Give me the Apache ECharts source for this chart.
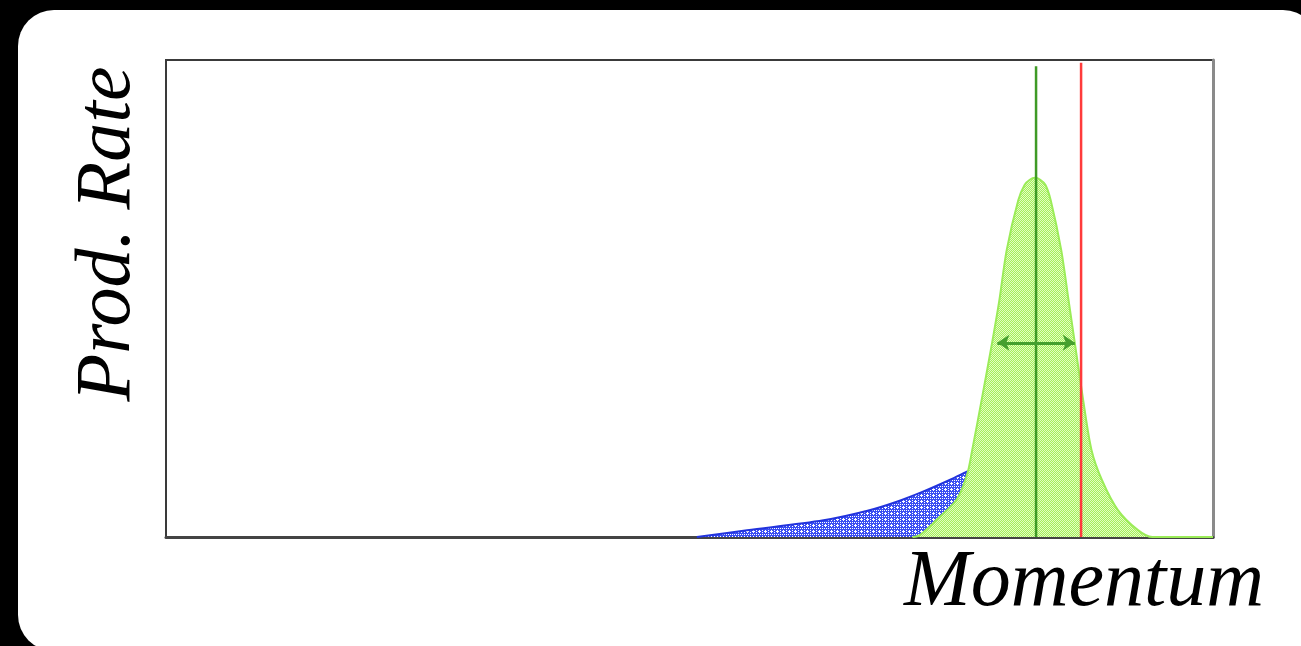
<!DOCTYPE html>
<html>
<head>
<meta charset="utf-8">
<script src="https://cdn.jsdelivr.net/npm/echarts@6/dist/echarts.min.js"></script>
<style>
  html, body { margin:0; padding:0; background:#000; width:1301px; height:646px; overflow:hidden; }
  #bg { position:absolute; left:18px; top:10px; width:1301px; height:641px; background:#fff; border-radius:36px; }
  #chart { position:absolute; left:0; top:0; width:1301px; height:646px; }
</style>
</head>
<body>
<div id="bg"></div>
<div id="chart"></div>
<script>
// Momentum axis (0..100, arbitrary units) and production rate (0..100)
const greenX = [71.3, 72.0, 73.6, 75.5, 76.5, 77.0, 77.9, 78.9, 79.6, 80.3, 81.4, 82.0, 82.5, 83.0, 83.5, 84.0, 84.5, 85.5, 86.2, 86.8, 87.6, 88.4, 89.4, 90.9, 92.8, 94.2, 100];
const greenY = [0, 0.4, 3.6, 7.8, 13.0, 18.2, 28.7, 40.7, 49.7, 60.2, 70.6, 73.8, 74.9, 75.3, 74.9, 73.8, 70.6, 60.2, 49.7, 40.7, 28.7, 18.2, 11.9, 5.7, 1.5, 0, 0];
const blueX = [50.7, 55.5, 62.8, 67.0, 69.8, 72.3, 74.9, 76.5, 77.2];
const blueY = [0, 1.4, 3.5, 5.5, 7.4, 9.5, 12.0, 13.7, 14.4];
const centerX = [83.1, 83.1];
const centerY = [0, 98.7];
const cutX = [87.4, 87.4];
const cutY = [0, 99.4];
const widthX = [79.4, 86.8];
const widthY = [40.7, 40.7];

function pairs(xs, ys) { return xs.map((x, i) => [x, ys[i]]); }

function makePattern(size, bgc, fg, pts) {
  const c = document.createElement('canvas');
  c.width = size; c.height = size;
  const g = c.getContext('2d');
  g.fillStyle = bgc; g.fillRect(0, 0, size, size);
  g.fillStyle = fg;
  pts.forEach(p => g.fillRect(p[0], p[1], 1, 1));
  return c;
}
const greenPat = makePattern(2, '#a4f058', '#e2fcc4', [[0,0],[1,1]]);
const bluePts = [];
for (let i = 0; i < 6; i++) for (let j = 0; j < 6; j++) if ((i + j) % 2 === 0 && (i === 0 || j === 0)) bluePts.push([i, j]);
[[3,2],[2,3],[3,3],[4,3],[3,4]].forEach(p => bluePts.push(p));
const bluePat = makePattern(6, '#3a4ef2', '#ffffff', bluePts);

const chart = echarts.init(document.getElementById('chart'), null, {renderer: 'canvas'});
chart.setOption({
  backgroundColor: 'transparent',
  animation: false,
  grid: { left: 166, top: 60, right: 88, bottom: 109, show: true, borderColor: '#3a3a3a', borderWidth: 2, backgroundColor: '#fff' },
  xAxis: { type: 'value', min: 0, max: 100, axisLabel: {show:false}, axisTick:{show:false}, splitLine:{show:false},
           axisLine: { show: true, lineStyle: { color: '#444', width: 3 } } },
  yAxis: [
    { type: 'value', min: 0, max: 100, axisLabel: {show:false}, axisTick:{show:false}, splitLine:{show:false},
      axisLine: { show: true, lineStyle: { color: '#3a3a3a', width: 2 } } },
    { type: 'value', min: 0, max: 100, position: 'right', axisLabel: {show:false}, axisTick:{show:false}, splitLine:{show:false},
      axisLine: { show: true, lineStyle: { color: '#8a8a8a', width: 3 } } }
  ],
  graphic: [
    { type: 'text', x: 108, y: 234, rotation: Math.PI / 2,
      style: { text: 'Prod. Rate', font: 'italic 78px "Liberation Serif"', fill: '#000', align: 'center', verticalAlign: 'middle' } },
    { type: 'text', x: 904, y: 584,
      style: { text: 'Momentum', font: 'italic 80px "Liberation Serif"', fill: '#000', align: 'left', verticalAlign: 'middle' } }
  ],
  series: [
    { type: 'line', data: pairs(blueX, blueY), smooth: 0.3, symbol: 'none', z: 2,
      lineStyle: { color: '#2233dd', width: 2 },
      areaStyle: { color: { image: bluePat, repeat: 'repeat' }, opacity: 1 } },
    { type: 'line', data: pairs(greenX, greenY), smooth: 0.3, symbol: 'none', z: 3,
      lineStyle: { color: '#9bec58', width: 2 },
      areaStyle: { color: { image: greenPat, repeat: 'repeat' }, opacity: 1 } },
    { type: 'line', data: pairs(centerX, centerY), symbol: 'none', z: 4,
      lineStyle: { color: '#3f9a26', width: 2.5 } },
    { type: 'line', data: pairs(cutX, cutY), symbol: 'none', z: 4,
      lineStyle: { color: '#ff3b3b', width: 2.5 } },
    { type: 'lines', coordinateSystem: 'cartesian2d', z: 5,
      symbol: ['arrow', 'arrow'], symbolSize: 12,
      lineStyle: { color: '#45a02e', width: 3, opacity: 1 },
      data: [{ coords: pairs(widthX, widthY) }] }
  ]
});
</script>
</body>
</html>
